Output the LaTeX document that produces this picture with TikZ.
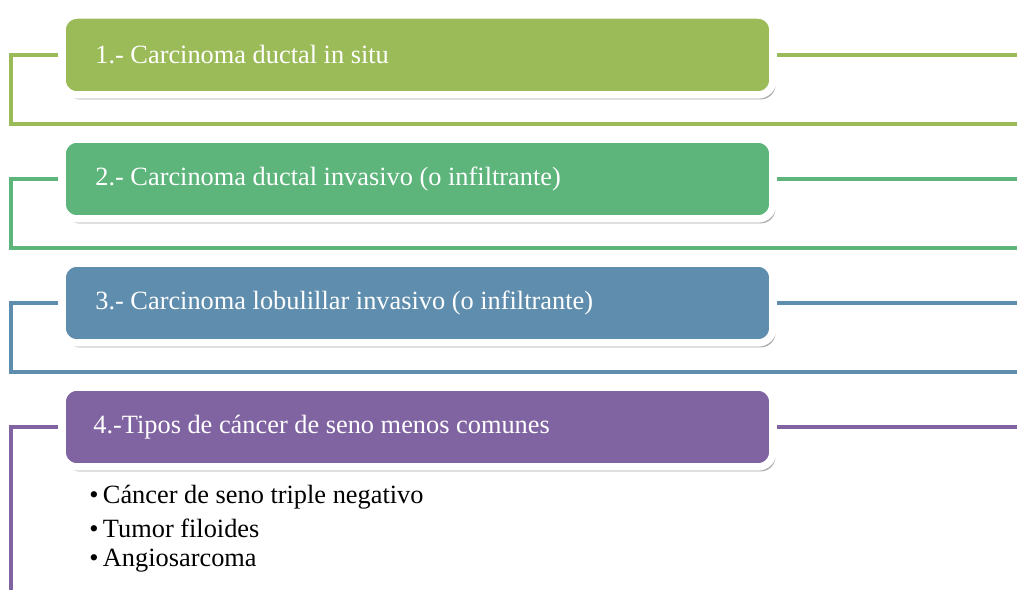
\documentclass[tikz,border=0pt]{standalone}
\usepackage{fontspec}
\setmainfont{Liberation Serif}
\usepackage{tikz}
\usetikzlibrary{shadows}
\usetikzlibrary{backgrounds}
\definecolor{verdeA}{HTML}{9BBB59}
\definecolor{verdeB}{HTML}{5DB57B}
\definecolor{azulC}{HTML}{5F8DAE}
\definecolor{moradoD}{HTML}{8064A2}
\tikzset{
  tipobox/.style={draw=white, line width=0.15cm, rounded corners=0.3cm, minimum width=14.22cm, minimum height=1.6cm,
    general shadow={fill=black, opacity=0.12, shadow scale=1.006},
    drop shadow={fill=black!70, opacity=0.5, shadow xshift=1.5pt, shadow yshift=-2.5pt}},
  tipotxt/.style={anchor=west, text=white, font=\fontsize{15}{17}\selectfont, inner sep=0pt},
  rama/.style={line width=0.09cm},
  item/.style={anchor=west, font=\fontsize{15}{17}\selectfont, inner sep=0pt}
}

\begin{document}
\begin{tikzpicture}[x=0.02cm, y=-0.02cm]
\useasboundingbox (0,0) rectangle (1017,590);
\coordinate (l1) at (11,124);
\coordinate (r1) at (1017,124);
\coordinate (l2) at (11,248);
\coordinate (r2) at (1017,248);
\coordinate (l3) at (11,372);
\coordinate (r3) at (1017,372);
\coordinate (l4) at (11,590);
\coordinate (rr) at (1017,0);

\node[tipobox, fill=verdeA] (b1) at (417.5,55) {};
\node[tipobox, fill=verdeB] (b2) at (417.5,179) {};
\node[tipobox, fill=azulC] (b3) at (417.5,303) {};
\node[tipobox, fill=moradoD] (b4) at (417.5,427) {};

\begin{scope}[on background layer]
\draw[rama, verdeA] (b1.west) -| (l1) -- (r1);
\draw[rama, verdeA] (b1.east) -- (b1.east -| rr);
\draw[rama, verdeB] (b2.west) -| (l2) -- (r2);
\draw[rama, verdeB] (b2.east) -- (b2.east -| rr);
\draw[rama, azulC] (b3.west) -| (l3) -- (r3);
\draw[rama, azulC] (b3.east) -- (b3.east -| rr);
\draw[rama, moradoD] (b4.west) -| (l4);
\draw[rama, moradoD] (b4.east) -- (b4.east -| rr);
\end{scope}

\node[tipotxt] (t1) at (95,55) {1.- Carcinoma ductal in situ};
\node[tipotxt] (t2) at (95,179) {2.- Carcinoma ductal invasivo (o infiltrante)};
\node[tipotxt] (t3) at (95,303) {3.- Carcinoma lobulillar invasivo (o infiltrante)};
\node[tipotxt] (t4) at (93,427) {4.-Tipos de cáncer de seno menos comunes};

\node[item] (i1) at (89,497) {\textbullet\,Cáncer de seno triple negativo};
\node[item] (i2) at (89,528) {\textbullet\,Tumor filoides};
\node[item] (i3) at (89,561) {\textbullet\,Angiosarcoma};
\end{tikzpicture}
\end{document}
